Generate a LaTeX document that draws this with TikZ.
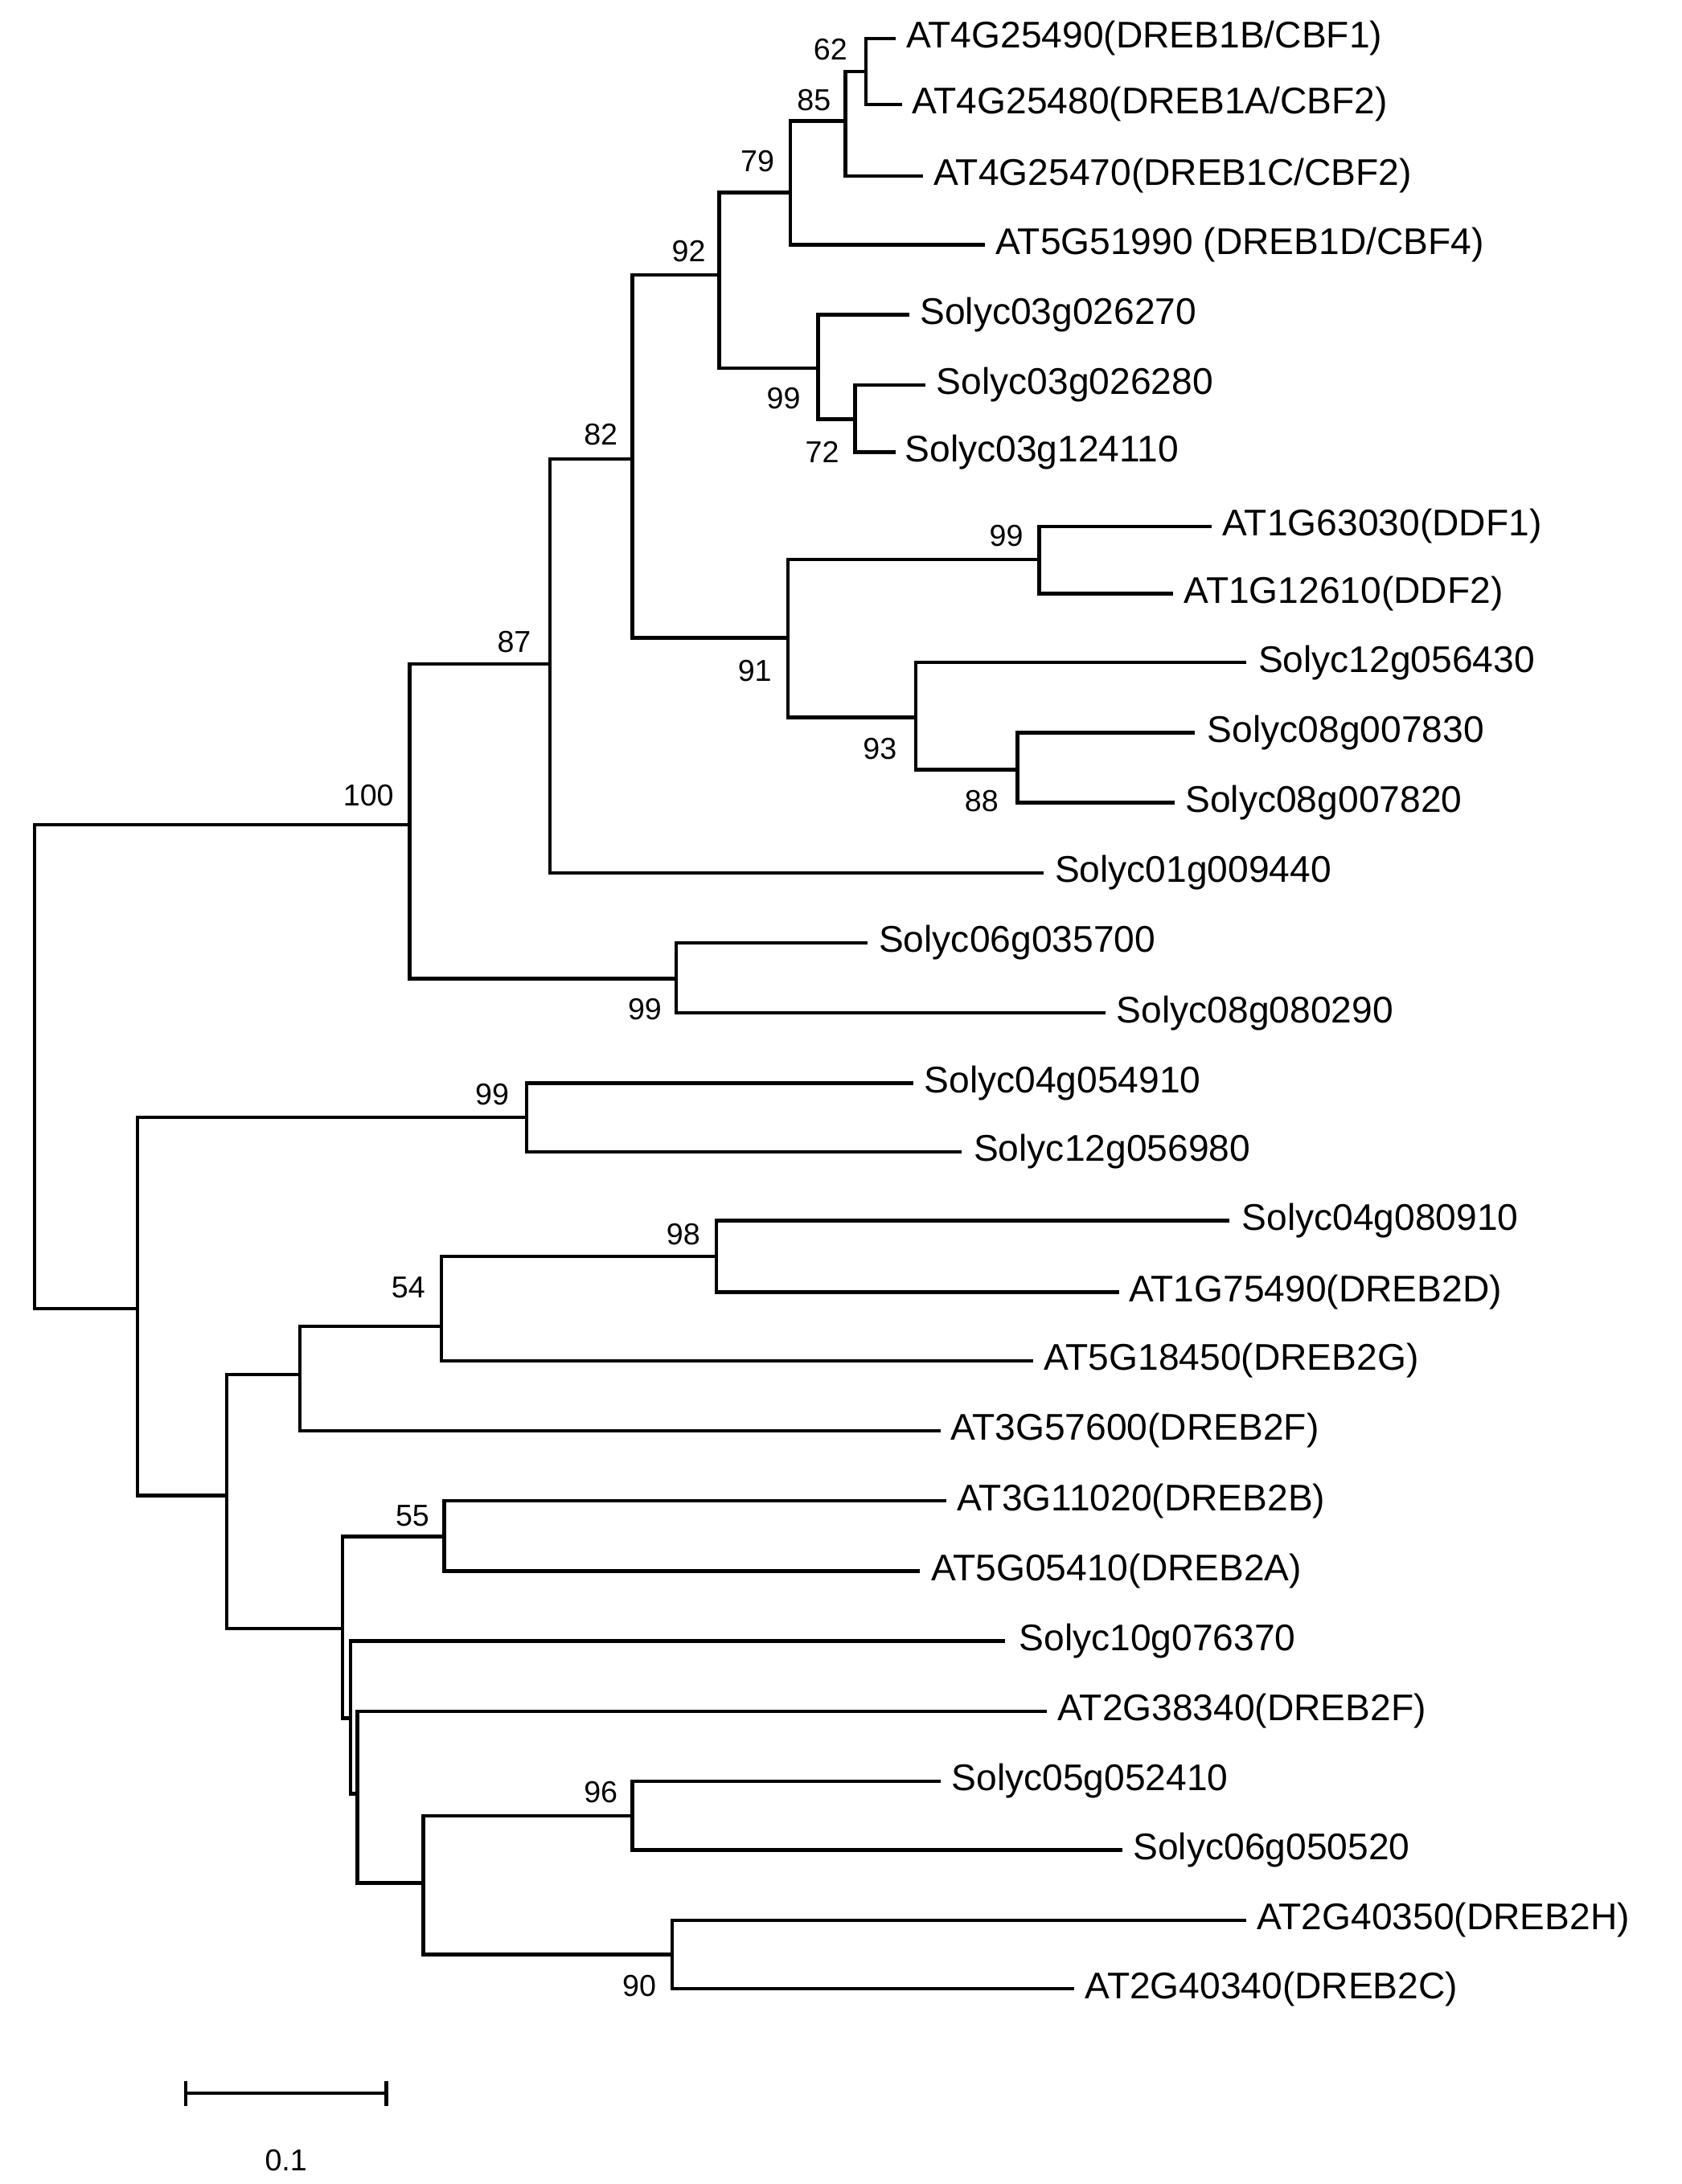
\documentclass[tikz,border=0pt]{standalone}
\usepackage{fontspec}
\setmainfont{Liberation Sans}
\begin{document}
\begin{tikzpicture}[x=1pt,y=-1pt,line width=2.6pt,
  lab/.style={anchor=west,inner sep=0pt,font=\fontsize{27}{30}\selectfont},
  bs/.style={inner sep=0pt,font=\fontsize{22}{24}\selectfont}]
\useasboundingbox (0,0) rectangle (1223,1589);
% internal nodes (x, y of the join)
\coordinate (root) at (25,776);
\coordinate (n100) at (298,600);
\coordinate (n87) at (400,483);
\coordinate (n82) at (460,334);
\coordinate (n92) at (523,200);
\coordinate (n79) at (575,140);
\coordinate (n85) at (615,88);
\coordinate (n62) at (630,52);
\coordinate (n99a) at (595,268);
\coordinate (n72) at (622,305);
\coordinate (n91) at (573,464);
\coordinate (n99b) at (756,407);
\coordinate (n93) at (666,522);
\coordinate (n88) at (740,560);
\coordinate (n99c) at (492,712);
\coordinate (nlow) at (100,952);
\coordinate (n99d) at (383,813);
\coordinate (nA) at (165,1088);
\coordinate (nB) at (218,1000);
\coordinate (n54) at (321,965);
\coordinate (n98) at (521,914);
\coordinate (nC) at (249,1185);
\coordinate (n55) at (323,1118);
\coordinate (nD) at (255,1250);
\coordinate (nE) at (260,1305);
\coordinate (nF) at (308,1370);
\coordinate (n96) at (460,1321);
\coordinate (n90) at (489,1422);
% leaves
\foreach \nm/\y/\tx/\lx/\txt in {
 l1/28/650/658/{AT4G25490(DREB1B/CBF1)},
 l2/76/655/662/{AT4G25480(DREB1A/CBF2)},
 l3/128/670/678/{AT4G25470(DREB1C/CBF2)},
 l4/178/715/723/{AT5G51990 (DREB1D/CBF4)},
 l5/229/660/668/{Solyc03g026270},
 l6/280/672/680/{Solyc03g026280},
 l7/329/650/657/{Solyc03g124110},
 l8/383/880/888/{AT1G63030(DDF1)},
 l9/432/852/860/{AT1G12610(DDF2)},
 l10/482/905/914/{Solyc12g056430},
 l11/533/868/877/{Solyc08g007830},
 l12/584/853/861/{Solyc08g007820},
 l13/635/758/766/{Solyc01g009440},
 l14/686/630/638/{Solyc06g035700},
 l15/737/803/811/{Solyc08g080290},
 l16/788/663/671/{Solyc04g054910},
 l17/838/698/707/{Solyc12g056980},
 l18/888/893/902/{Solyc04g080910},
 l19/940/813/820/{AT1G75490(DREB2D)},
 l20/990/750/758/{AT5G18450(DREB2G)},
 l21/1041/683/690/{AT3G57600(DREB2F)},
 l22/1092/687/695/{AT3G11020(DREB2B)},
 l23/1143/668/676/{AT5G05410(DREB2A)},
 l24/1194/730/740/{Solyc10g076370},
 l25/1245/760/768/{AT2G38340(DREB2F)},
 l26/1296/683/691/{Solyc05g052410},
 l27/1346/815/823/{Solyc06g050520},
 l28/1397/905/913/{AT2G40350(DREB2H)},
 l29/1447/780/788/{AT2G40340(DREB2C)}}
 {\coordinate (\nm) at (\tx,\y);
  \node[lab] (t\nm) at (\lx,\y) {\txt};}
% edges
\foreach \p/\c in {root/n100,root/nlow,n100/n87,n100/n99c,n87/n82,n87/l13,
 n82/n92,n82/n91,n92/n79,n92/n99a,n79/n85,n79/l4,n85/n62,n85/l3,n62/l1,n62/l2,
 n99a/l5,n99a/n72,n72/l6,n72/l7,n91/n99b,n91/n93,n99b/l8,n99b/l9,n93/l10,n93/n88,
 n88/l11,n88/l12,n99c/l14,n99c/l15,nlow/n99d,nlow/nA,n99d/l16,n99d/l17,
 nA/nB,nA/nC,nB/n54,nB/l21,n54/n98,n54/l20,n98/l18,n98/l19,nC/n55,nC/nD,
 n55/l22,n55/l23,nD/l24,nD/nE,nE/l25,nE/nF,nF/n96,nF/n90,n96/l26,n96/l27,
 n90/l28,n90/l29}
 {\draw[line cap=rect] (\p) |- (\c);}
% bootstrap values
\foreach \x/\y/\v in {604/36/62,592/73/85,551/117/79,501/183/92,570/290/99,598/329/72,
 437/316/82,374/467/87,268/579/100,732/390/99,549/488/91,640/545/93,714/583/88,
 469/734/99,358/796/99,497/898/98,297/937/54,300/1103/55,437/1304/96,465/1445/90}
 {\node[bs] (b\x) at (\x,\y) {\v};}
% scale bar
\coordinate (sa) at (135,1523);
\coordinate (sb) at (281,1523);
\draw (sa) -- (sb);
\draw (135,1514) -- (135,1532);
\draw (281,1514) -- (281,1532);
\node[bs] (sbl) at (208,1572) {0.1};
\end{tikzpicture}
\end{document}
